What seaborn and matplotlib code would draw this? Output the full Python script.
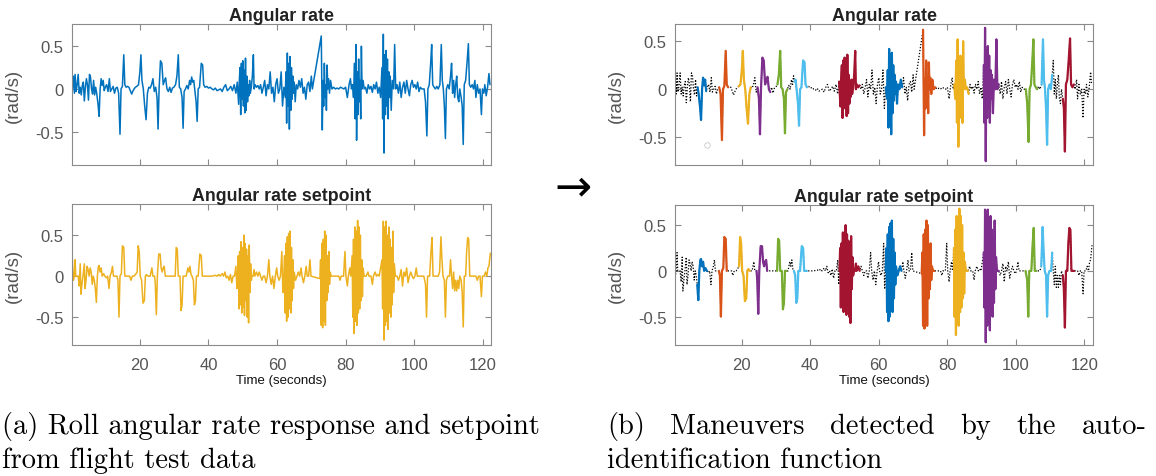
import numpy as np
import pandas as pd
import matplotlib
matplotlib.use("Agg")
import matplotlib.pyplot as plt
import seaborn as sns

sns.set_style("white")
plt.rcParams["font.family"] = ["Liberation Sans", "DejaVu Sans"]
plt.rcParams["axes.unicode_minus"] = False

# Roll angular rate response (time s, rate rad/s)
response_samples = [
    (0.3, 0.00), (0.6, 0.15), (0.9, -0.05), (1.1, 0.17), (1.4, -0.03), (1.7, 0.05),
    (2.0, 0.17), (2.3, -0.05), (2.6, 0.02), (2.9, -0.07), (3.2, 0.04), (3.5, 0.08),
    (3.8, -0.14), (4.1, 0.02), (4.4, 0.12), (4.7, 0.05), (5.0, -0.13), (5.3, 0.17),
    (5.6, 0.14), (5.9, 0.00), (6.2, -0.06), (6.5, 0.10), (6.8, -0.07), (7.1, 0.02),
    (7.4, -0.05), (7.8, -0.18), (8.1, -0.32), (8.4, 0.00), (8.7, 0.12), (9.0, 0.04),
    (9.3, 0.10), (9.6, -0.02), (9.9, 0.02), (10.3, 0.05), (10.7, -0.03), (11.1, 0.12),
    (11.4, -0.03), (11.8, 0.00), (12.2, 0.03), (12.6, -0.05), (13.0, 0.01), (13.4, 0.02),
    (13.8, -0.05), (14.2, -0.53), (14.5, 0.00), (14.9, 0.03), (15.3, 0.40), (15.6, 0.05),
    (16.0, 0.02), (16.4, 0.03), (16.8, 0.02), (17.2, -0.02), (17.6, -0.06), (17.9, -0.03),
    (18.3, 0.00), (18.7, 0.02), (19.1, 0.03), (19.6, 0.05), (20.0, 0.20), (20.3, 0.40),
    (20.6, 0.10), (21.0, 0.00), (21.4, -0.20), (21.8, -0.36), (22.2, -0.05), (22.6, 0.02),
    (23.0, 0.01), (23.4, 0.05), (23.8, 0.12), (24.2, -0.03), (24.6, 0.02), (25.0, -0.10),
    (25.3, -0.47), (25.6, 0.00), (26.0, 0.33), (26.4, 0.30), (26.8, 0.05), (27.2, 0.10),
    (27.5, 0.13), (27.9, 0.00), (28.3, -0.03), (28.7, 0.02), (29.1, -0.04), (29.5, 0.01),
    (29.9, 0.02), (30.4, 0.05), (30.8, 0.15), (31.2, 0.40), (31.5, 0.02), (31.9, 0.00),
    (32.3, -0.10), (32.6, -0.46), (32.9, -0.03), (33.3, 0.00), (33.7, 0.04), (34.1, 0.00),
    (34.5, 0.10), (34.8, 0.05), (35.1, 0.14), (35.4, 0.08), (35.7, 0.10), (36.1, -0.04),
    (36.4, -0.15), (36.7, -0.38), (37.0, 0.00), (37.4, 0.02), (37.9, 0.30), (38.3, 0.28),
    (38.6, 0.05), (39.0, 0.02), (39.5, 0.03), (40.0, 0.01), (40.5, 0.02), (41.0, 0.00),
    (41.5, -0.01), (42.0, 0.01), (42.5, -0.02), (43.0, -0.01), (43.5, 0.00), (44.0, -0.03),
    (44.5, 0.02), (45.0, 0.05), (45.5, -0.02), (46.0, 0.00), (46.5, 0.03), (47.0, -0.02),
    (47.5, 0.05), (48.0, -0.05), (48.4, 0.08), (48.8, -0.18), (49.0, 0.10), (49.2, 0.25),
    (49.4, -0.30), (49.6, 0.30), (49.8, -0.12), (50.0, 0.33), (50.2, -0.20), (50.4, 0.22),
    (50.6, -0.28), (50.8, 0.36), (51.0, -0.25), (51.2, 0.15), (51.4, -0.15), (51.6, 0.05),
    (51.8, -0.08), (52.0, 0.10), (52.2, -0.05), (52.5, 0.02), (52.8, 0.15), (53.1, 0.40),
    (53.3, 0.00), (53.6, 0.05), (54.0, 0.02), (54.4, 0.04), (54.8, 0.00), (55.2, 0.05),
    (55.6, -0.05), (56.0, 0.02), (56.4, 0.10), (56.8, -0.08), (57.2, 0.05), (57.6, 0.00),
    (58.0, 0.20), (58.4, -0.05), (58.8, 0.02), (59.2, -0.15), (59.6, 0.05), (60.0, 0.12),
    (60.4, -0.05), (60.8, 0.00), (61.2, 0.20), (61.6, -0.20), (62.0, 0.02), (62.4, -0.10),
    (62.6, 0.20), (62.8, -0.40), (63.0, 0.42), (63.2, -0.20), (63.4, 0.30), (63.6, -0.47),
    (63.8, 0.38), (64.0, -0.25), (64.2, 0.25), (64.4, -0.12), (64.6, 0.15), (64.8, -0.05),
    (65.0, 0.08), (65.3, -0.15), (65.6, 0.05), (66.0, 0.00), (66.4, 0.10), (66.8, 0.02),
    (67.2, 0.12), (67.6, -0.05), (68.0, 0.02), (68.4, -0.12), (68.8, 0.05), (69.2, 0.08),
    (69.6, -0.03), (70.0, 0.15), (70.3, 0.00), (72.9, 0.62), (73.2, -0.48), (73.4, 0.10),
    (73.6, -0.20), (73.8, 0.30), (74.0, -0.10), (74.2, 0.05), (74.4, -0.25), (74.6, 0.28),
    (74.8, 0.00), (75.0, 0.12), (75.3, -0.05), (75.6, 0.10), (76.0, 0.00), (76.5, 0.02),
    (77.0, 0.00), (77.5, 0.01), (78.0, 0.00), (78.5, 0.02), (79.0, 0.01), (79.5, 0.00),
    (80.0, 0.02), (80.5, -0.10), (81.0, 0.05), (81.4, 0.12), (81.7, 0.00), (82.0, 0.05),
    (82.3, -0.10), (82.6, 0.30), (82.8, -0.35), (83.0, 0.52), (83.2, -0.60), (83.4, 0.20),
    (83.6, -0.30), (83.8, 0.35), (84.0, -0.15), (84.2, 0.10), (84.4, -0.35), (84.6, 0.50),
    (84.8, 0.00), (85.1, 0.10), (85.4, 0.00), (85.8, 0.02), (86.2, -0.05), (86.6, 0.05),
    (87.0, 0.00), (87.4, 0.03), (87.8, -0.04), (88.2, 0.05), (88.6, 0.00), (89.0, 0.08),
    (89.4, -0.05), (89.8, 0.02), (90.2, -0.10), (90.6, 0.25), (90.8, -0.35), (91.0, 0.64),
    (91.2, -0.75), (91.4, 0.40), (91.6, -0.30), (91.8, 0.45), (92.0, -0.20), (92.2, 0.35),
    (92.4, -0.35), (92.6, 0.20), (92.8, -0.10), (93.0, 0.15), (93.3, -0.25), (93.6, 0.10),
    (94.0, 0.00), (94.3, 0.52), (94.6, 0.00), (95.0, 0.05), (95.4, -0.05), (95.8, 0.08),
    (96.2, -0.10), (96.6, 0.02), (97.0, 0.08), (97.4, -0.05), (97.8, 0.10), (98.2, 0.00),
    (98.6, -0.08), (99.0, 0.05), (99.4, 0.10), (99.8, 0.02), (100.2, 0.05), (100.6, 0.00),
    (101.0, 0.08), (101.4, -0.03), (101.8, 0.02), (102.2, 0.00), (102.9, 0.00), (103.3, -0.15),
    (103.7, -0.55), (104.0, 0.00), (104.4, 0.05), (104.8, 0.30), (105.1, 0.52), (105.4, 0.05),
    (105.8, 0.02), (106.2, 0.00), (106.6, 0.03), (107.0, 0.00), (107.5, 0.05), (107.9, 0.52),
    (108.2, 0.10), (108.5, 0.00), (108.8, -0.20), (109.1, -0.58), (109.4, 0.00), (109.8, 0.05),
    (110.2, 0.00), (110.6, 0.15), (110.9, 0.30), (111.2, -0.05), (111.5, 0.10), (111.8, -0.10),
    (112.1, 0.05), (112.4, 0.15), (112.7, -0.10), (113.0, -0.15), (113.3, 0.00), (113.7, -0.10),
    (114.0, -0.20), (114.3, -0.65), (114.6, 0.05), (115.0, 0.10), (115.4, 0.30), (115.8, 0.53),
    (116.1, 0.05), (116.5, 0.02), (116.9, 0.05), (117.3, 0.00), (117.7, 0.10), (118.0, -0.10),
    (118.4, 0.05), (118.8, -0.05), (119.2, 0.00), (119.6, -0.30), (119.9, 0.00), (120.3, -0.05),
    (120.6, 0.05), (121.0, -0.08), (121.4, 0.02), (121.8, 0.18), (122.1, 0.05),
]

# Roll angular rate setpoint (time s, rate rad/s)
setpoint_samples = [
    (0.3, 0.20), (0.6, -0.05), (0.9, 0.00), (1.1, 0.20), (1.3, 0.00), (2.0, 0.00),
    (2.3, -0.12), (2.6, 0.15), (2.8, -0.22), (3.1, -0.10), (3.4, 0.00), (3.8, 0.15),
    (4.0, -0.15), (4.3, -0.05), (4.6, 0.12), (4.9, 0.08), (5.2, 0.00), (5.5, 0.10),
    (5.8, 0.05), (6.1, -0.10), (6.4, 0.00), (6.7, -0.05), (7.0, -0.15), (7.3, -0.32),
    (7.6, 0.00), (7.9, 0.12), (8.1, 0.13), (8.4, 0.05), (8.7, 0.10), (9.0, 0.00),
    (9.4, 0.03), (9.8, 0.00), (10.2, -0.02), (10.6, 0.00), (11.0, -0.15), (11.3, 0.00),
    (11.7, 0.05), (12.0, 0.12), (12.3, 0.00), (12.8, 0.00), (13.3, 0.00), (13.6, -0.05),
    (13.9, -0.50), (14.2, 0.00), (14.6, 0.03), (14.9, 0.37), (15.3, 0.35), (15.6, 0.00),
    (16.5, 0.00), (17.0, 0.00), (17.4, -0.05), (17.8, 0.00), (18.3, 0.00), (18.7, 0.02),
    (19.2, 0.05), (19.5, 0.37), (19.8, 0.30), (20.1, 0.00), (20.5, -0.05), (20.9, -0.33),
    (21.3, -0.30), (21.6, 0.00), (21.9, 0.02), (22.3, 0.00), (23.0, 0.00), (23.5, 0.10),
    (23.8, 0.00), (24.3, 0.00), (24.5, -0.10), (24.8, -0.47), (25.1, 0.00), (25.5, 0.27),
    (25.9, 0.27), (26.2, 0.10), (26.5, 0.05), (26.8, 0.10), (27.1, 0.12), (27.4, 0.00),
    (28.5, 0.00), (29.0, 0.00), (30.3, 0.00), (30.6, 0.35), (30.9, 0.33), (31.2, 0.00),
    (31.7, 0.00), (32.0, -0.42), (32.3, -0.35), (32.6, 0.00), (33.0, 0.00), (33.5, 0.00),
    (34.0, 0.10), (34.3, 0.05), (34.6, 0.12), (34.9, 0.02), (35.2, 0.00), (35.6, -0.05),
    (35.9, -0.35), (36.2, -0.30), (36.5, 0.00), (37.0, 0.00), (37.5, 0.27), (37.9, 0.25),
    (38.2, 0.00), (39.0, 0.00), (40.0, 0.00), (41.0, 0.00), (42.0, 0.01), (42.5, 0.00),
    (43.0, 0.02), (43.4, 0.00), (44.0, 0.03), (44.4, 0.00), (44.8, 0.05), (45.2, -0.02),
    (45.6, 0.00), (46.0, -0.05), (46.4, 0.02), (46.8, -0.08), (47.2, 0.00), (47.6, 0.00),
    (48.0, 0.12), (48.3, -0.15), (48.5, 0.00), (48.7, 0.25), (48.9, -0.40), (49.1, 0.30),
    (49.3, -0.35), (49.5, 0.42), (49.7, -0.45), (49.9, 0.35), (50.1, -0.38), (50.3, 0.50),
    (50.5, -0.48), (50.7, 0.40), (50.9, -0.30), (51.1, 0.33), (51.3, -0.50), (51.5, 0.25),
    (51.7, -0.57), (51.9, 0.38), (52.1, -0.20), (52.3, 0.15), (52.5, -0.05), (52.7, 0.00),
    (53.0, 0.00), (53.3, 0.08), (53.5, 0.00), (54.0, 0.05), (54.4, 0.00), (54.8, 0.05),
    (55.2, 0.00), (55.6, -0.05), (56.0, 0.00), (56.4, 0.00), (56.8, -0.08), (57.2, 0.00),
    (57.6, 0.20), (57.9, 0.00), (58.3, -0.10), (58.7, 0.00), (59.1, -0.15), (59.5, 0.00),
    (59.9, 0.10), (60.2, 0.00), (60.6, -0.05), (61.0, 0.00), (61.4, 0.30), (61.7, -0.20),
    (62.0, 0.00), (62.2, 0.25), (62.4, -0.45), (62.6, 0.40), (62.8, -0.55), (63.0, 0.48),
    (63.2, -0.50), (63.4, 0.52), (63.6, -0.40), (63.8, 0.55), (64.0, -0.45), (64.2, 0.35),
    (64.4, -0.30), (64.6, 0.20), (64.8, -0.15), (65.0, 0.05), (65.4, -0.05), (65.8, 0.00),
    (66.2, 0.05), (66.6, 0.00), (67.0, 0.10), (67.3, 0.00), (67.7, -0.08), (68.1, 0.00),
    (68.5, 0.12), (68.8, 0.00), (69.2, 0.00), (69.6, 0.20), (69.9, 0.00), (72.5, -0.03),
    (72.7, 0.20), (72.9, -0.60), (73.1, 0.40), (73.3, -0.63), (73.5, 0.45), (73.7, -0.55),
    (73.9, 0.55), (74.1, -0.60), (74.3, 0.50), (74.5, -0.30), (74.7, 0.25), (74.9, -0.20),
    (75.1, 0.30), (75.3, -0.10), (75.5, 0.05), (75.8, 0.00), (76.2, 0.00), (76.8, 0.00),
    (77.5, 0.00), (78.0, 0.00), (78.4, -0.05), (78.7, 0.00), (79.4, 0.00), (79.8, 0.30),
    (80.1, 0.00), (80.5, -0.12), (80.8, 0.00), (81.2, 0.10), (81.5, 0.00), (81.9, 0.25),
    (82.1, -0.50), (82.3, 0.45), (82.5, -0.70), (82.7, 0.60), (82.9, -0.55), (83.1, 0.55),
    (83.3, -0.60), (83.5, 0.68), (83.7, -0.45), (83.9, 0.60), (84.1, -0.40), (84.3, 0.50),
    (84.5, -0.30), (84.7, 0.20), (84.9, -0.25), (85.1, 0.10), (85.4, 0.00), (86.0, 0.00),
    (86.5, 0.05), (86.8, 0.00), (87.4, 0.00), (87.8, -0.10), (88.1, 0.00), (88.6, 0.05),
    (89.0, 0.00), (89.4, 0.02), (89.8, 0.00), (90.6, 0.20), (90.8, -0.40), (91.0, 0.67),
    (91.2, -0.78), (91.4, 0.60), (91.6, -0.60), (91.8, 0.67), (92.0, -0.55), (92.2, 0.50),
    (92.4, -0.65), (92.6, 0.60), (92.8, -0.45), (93.0, 0.45), (93.2, -0.50), (93.4, 0.35),
    (93.6, -0.35), (93.8, 0.55), (94.0, -0.20), (94.2, 0.15), (94.5, 0.00), (95.0, 0.00),
    (95.4, -0.05), (95.8, 0.00), (96.2, 0.08), (96.6, -0.12), (97.0, 0.05), (97.4, 0.00),
    (97.8, 0.10), (98.2, -0.08), (98.6, 0.00), (99.0, 0.05), (99.4, 0.00), (99.8, -0.03),
    (100.2, 0.00), (100.6, 0.10), (100.9, 0.00), (101.5, 0.00), (101.9, 0.00), (102.8, 0.00),
    (103.3, -0.10), (103.6, -0.50), (103.9, 0.00), (104.5, 0.00), (104.9, 0.30), (105.2, 0.47),
    (105.5, 0.00), (106.0, 0.00), (106.5, 0.00), (107.0, 0.00), (107.4, 0.05), (107.8, 0.48),
    (108.1, 0.20), (108.4, 0.00), (108.8, -0.05), (109.1, -0.50), (109.4, -0.05), (109.8, 0.00),
    (110.3, 0.00), (110.6, 0.20), (110.9, 0.00), (111.2, -0.15), (111.5, 0.05), (111.8, -0.18),
    (112.1, -0.05), (112.4, -0.18), (112.7, -0.05), (113.0, -0.15), (113.3, 0.00), (113.7, -0.05),
    (114.0, -0.20), (114.3, -0.62), (114.6, 0.00), (115.0, 0.00), (115.3, 0.30), (115.6, 0.47),
    (115.9, 0.45), (116.2, 0.00), (116.6, 0.00), (117.0, 0.00), (117.5, 0.00), (118.0, 0.00),
    (118.4, -0.05), (118.8, 0.00), (119.2, 0.00), (119.6, -0.25), (119.9, 0.00), (120.4, 0.00),
    (120.8, 0.05), (121.2, 0.00), (121.5, 0.10), (121.8, 0.12), (122.2, 0.28),
]

# Detected maneuver windows (start s, end s)
maneuver_windows = [
    (6.9, 9.8), (13.2, 16.1), (18.8, 22.9), (24.3, 28.3), (30.2, 33.3),
    (35.2, 39.0), (48.4, 54.7), (62.0, 66.8), (72.2, 76.6), (81.9, 86.4),
    (90.6, 95.1), (102.8, 106.3), (107.3, 110.6), (113.7, 117.0),
]
maneuver_colors = ["#0072BD", "#D95319", "#EDB120", "#7E2F8E",
                   "#77AC30", "#4DBEEE", "#A2142F"]

stray_marker = (9.8, -0.58)

x_ticks = [20, 40, 60, 80, 100, 120]
y_ticks = [-0.5, 0, 0.5]
y_tick_labels = ["-0.5", "0", "0.5"]

caption_a = ["(a) Roll angular rate response and setpoint", "from flight test data"]
caption_b_first = ["(b)", "Maneuvers", "detected", "by", "the", "auto-"]
caption_b_second = "identification function"

response = pd.DataFrame(response_samples, columns=["t", "v"])
setpoint = pd.DataFrame(setpoint_samples, columns=["t", "v"])


def maneuver_frame(df):
    parts = []
    for i, (a, b) in enumerate(maneuver_windows):
        sub = df[(df["t"] >= a) & (df["t"] <= b)].copy()
        sub["seg"] = i
        sub["col"] = i % len(maneuver_colors)
        parts.append(sub)
    return pd.concat(parts, ignore_index=True)


W, H = 1156, 477
fig = plt.figure(figsize=(W / 100, H / 100), dpi=100)


def axes_px(left, top, right, bottom):
    return fig.add_axes([left / W, 1 - bottom / H, (right - left) / W, (bottom - top) / H])


def style(ax, title, ylim, xlim, show_xlabels):
    ax.set_xlim(*xlim)
    ax.set_ylim(*ylim)
    ax.set_xticks(x_ticks)
    ax.set_yticks(y_ticks)
    ax.set_yticklabels(y_tick_labels)
    if not show_xlabels:
        ax.set_xticklabels([])
    ax.tick_params(direction="in", length=4, width=0.8, color="#8a8a8a",
                   labelcolor="#555555", labelsize=12, top=True, right=True,
                   bottom=True, left=True)
    ax.tick_params(axis="y", pad=6)
    ax.tick_params(axis="x", pad=9)
    for s in ax.spines.values():
        s.set_color("#8a8a8a")
        s.set_linewidth(0.8)
        s.set_visible(True)
    ax.set_xlabel("")
    ax.set_ylabel("(rad/s)", color="#555555", fontsize=13.5)
    ax.yaxis.set_label_coords(-0.12, 0.5)
    ax.set_title(title, fontsize=12.8, fontweight="bold", color="#222222", pad=3)


xlim_left = (0.2, 122.4)
xlim_right = (0.5, 122.5)
dotted = (0, (1, 1.4))

# (a) raw signals
ax1 = axes_px(72, 25, 491, 166)
sns.lineplot(data=response, x="t", y="v", ax=ax1, color="#0072BD", lw=1.1,
             estimator=None, sort=False)
style(ax1, "Angular rate", (-0.89, 0.76), xlim_left, False)

ax2 = axes_px(72, 205, 491, 346)
sns.lineplot(data=setpoint, x="t", y="v", ax=ax2, color="#EDB120", lw=1.1,
             estimator=None, sort=False)
style(ax2, "Angular rate setpoint", (-0.84, 0.88), xlim_left, True)

# (b) maneuvers coloured over the dotted full signal
palette = {i: c for i, c in enumerate(maneuver_colors)}

ax3 = axes_px(675, 25, 1093, 166)
sns.lineplot(data=response, x="t", y="v", ax=ax3, color="black", lw=0.9,
             linestyle=dotted, estimator=None, sort=False)
sns.lineplot(data=maneuver_frame(response), x="t", y="v", hue="col", units="seg",
             palette=palette, ax=ax3, lw=1.6, estimator=None, sort=False, legend=False)
ax3.plot([stray_marker[0]], [stray_marker[1]], marker="o", ms=4, mfc="none",
         mec="#c8c8c8", mew=0.6, ls="none")
style(ax3, "Angular rate", (-0.79, 0.68), xlim_right, False)

ax4 = axes_px(675, 206, 1093, 346)
sns.lineplot(data=setpoint, x="t", y="v", ax=ax4, color="black", lw=0.9,
             linestyle=dotted, estimator=None, sort=False)
sns.lineplot(data=maneuver_frame(setpoint), x="t", y="v", hue="col", units="seg",
             palette=palette, ax=ax4, lw=1.6, estimator=None, sort=False, legend=False)
style(ax4, "Angular rate setpoint", (-0.81, 0.72), xlim_right, True)

# x-axis labels under the lower panels
fig.text(281.5 / W, 1 - 381 / H, "Time (seconds)", ha="center", va="center",
         fontsize=9.5, color="#111111")
fig.text(884 / W, 1 - 381 / H, "Time (seconds)", ha="center", va="center",
         fontsize=9.5, color="#111111")

# arrow between the two figure halves
fig.text(573 / W, 1 - 188 / H, "\u2192", ha="center", va="center",
         fontsize=32, family="DejaVu Sans", color="black")

# sub-captions
cap = dict(family="cmr10", fontsize=20.5, color="black", va="baseline")
fig.text(2 / W, 1 - 434 / H, caption_a[0], ha="left", **cap)
fig.text(2 / W, 1 - 468 / H, caption_a[1], ha="left", **cap)
fig.text(607 / W, 1 - 468 / H, caption_b_second, ha="left", **cap)

# first line of (b) is justified between the column edges
words = [fig.text(0, 1 - 434 / H, w, ha="left", **cap) for w in caption_b_first]
fig.canvas.draw()
renderer = fig.canvas.get_renderer()
widths = [t.get_window_extent(renderer).width for t in words]
x0, x1 = 607.0, 1147.0
gap = (x1 - x0 - sum(widths)) / (len(words) - 1)
x = x0
for t, w in zip(words, widths):
    t.set_x(x / W)
    x += w + gap

fig.savefig("out.png", dpi=100)
